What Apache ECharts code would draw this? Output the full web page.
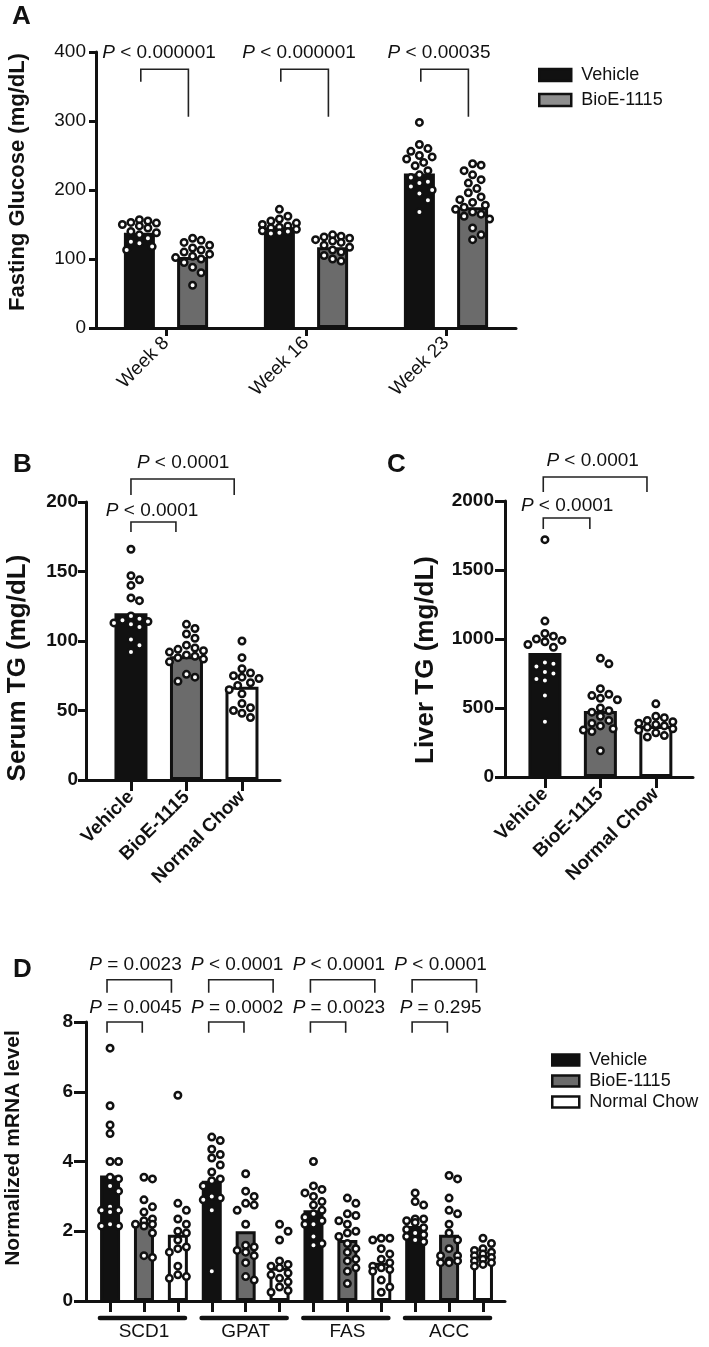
<!DOCTYPE html>
<html><head><meta charset="utf-8">
<script src="https://cdn.jsdelivr.net/npm/echarts@6/dist/echarts.min.js"></script>
<style>html,body{margin:0;padding:0;background:#fff}#c{width:709px;height:1347px}</style>
</head><body><div id="c"></div><script>
// ---------------- DATA ----------------
const weeks = ['Week 8', 'Week 16', 'Week 23'];
const gluVehicleMean = [138, 146, 224];
const gluBioeMean = [103, 117, 175];
const gluVehiclePts = [
  [157,155,153,152,150,148,145,140,138,135,130,125,123,118,113],
  [172,162,158,155,152,150,148,146,145,143,141,140,138,137],
  [298,266,260,256,250,248,245,240,235,228,222,218,212,210,205,200,195,185,168]
];
const gluBioePts = [
  [130,127,124,120,116,113,110,107,104,102,100,95,88,80,62],
  [135,133,132,130,128,126,124,120,117,113,110,105,100,97],
  [238,236,228,222,215,210,202,196,190,186,182,178,175,172,168,165,162,158,145,135,128]
];
const pGlucose = ['P < 0.000001', 'P < 0.000001', 'P < 0.00035'];

const groups = ['Vehicle', 'BioE-1115', 'Normal Chow'];
const serumTGMean = [120, 89, 67];
const serumTGPts = [
  [166,147,144,140,131,129,118,116,115,114,113,112,110,101,97,92],
  [112,109,105,102,97,95,94,93,92,90,89,88,87,85,76,74,71],
  [100,88,80,77,75,74,73,70,68,65,62,55,52,50,48,45]
];
const pSerum = ['P < 0.0001', 'P < 0.0001'];

const liverTGMean = [898, 478, 370];
const liverTGPts = [
  [1720,1130,1040,1020,1000,990,980,960,940,830,820,800,760,750,710,700,590,400],
  [860,820,640,600,590,570,560,500,480,470,440,410,390,370,350,340,330,190],
  [530,440,430,410,400,390,380,370,360,350,340,320,300,290]
];
const pLiver = ['P < 0.0001', 'P < 0.0001'];

const genes = ['SCD1', 'GPAT', 'FAS', 'ACC'];
const mrnaVehicleMean = [3.6, 3.45, 2.6, 2.15];
const mrnaBioeMean = [2.25, 2.0, 1.75, 1.9];
const mrnaChowMean = [1.9, 0.95, 1.1, 1.3];
const mrnaVehiclePts = [
  [7.25,5.6,5.05,4.8,4.0,4.0,3.55,3.5,3.3,3.15,2.7,2.6,2.55,2.6,2.15,2.15,2.2],
  [4.7,4.6,4.35,4.2,4.1,3.9,3.7,3.5,3.45,3.3,3.0,2.95,2.9,2.6,0.85],
  [4.0,3.3,3.2,3.1,3.0,2.85,2.75,2.6,2.5,2.4,2.3,2.2,2.2,1.85,1.65,1.6],
  [3.1,2.85,2.75,2.35,2.35,2.3,2.25,2.1,2.05,1.95,1.9,1.85,1.75,1.7]
];
const mrnaBioePts = [
  [3.55,3.5,2.9,2.7,2.55,2.35,2.3,2.2,2.2,2.15,1.95,1.3,1.25],
  [3.65,3.15,3.0,2.8,2.75,2.6,2.2,1.6,1.55,1.45,1.4,1.3,1.1,0.7,0.6],
  [2.95,2.8,2.5,2.45,2.3,2.2,2.0,1.95,1.85,1.65,1.5,1.4,1.2,1.15,0.95,0.85,0.5],
  [3.6,3.5,2.95,2.6,2.5,2.2,1.95,1.75,1.5,1.3,1.3,1.15,1.15,1.1,1.1]
];
const mrnaChowPts = [
  [5.9,2.8,2.6,2.35,2.2,2.0,1.95,1.75,1.55,1.5,1.4,1.0,0.75,0.7,0.65],
  [2.2,2.0,1.75,1.15,1.05,1.0,0.95,0.8,0.75,0.65,0.55,0.4,0.3,0.25],
  [1.8,1.8,1.75,1.5,1.35,1.2,1.1,1.0,0.95,0.9,0.85,0.6,0.4,0.25],
  [1.8,1.65,1.5,1.45,1.4,1.35,1.3,1.25,1.2,1.15,1.1,1.05,1.0]
];
const pMrnaUpper = ['P = 0.0023', 'P < 0.0001', 'P < 0.0001', 'P < 0.0001'];
const pMrnaLower = ['P = 0.0045', 'P = 0.0002', 'P = 0.0023', 'P = 0.295'];

// ---------------- STYLE / LAYOUT ----------------
const FONT = '"Liberation Sans", Arial, Helvetica, sans-serif';
const INK = '#111111';
const COL = ['#111111', '#6b6b6b', '#ffffff'];

const L = [
  {left:96,  top:52,   width:420, height:276, xmin:-0.5,  xmax:2.5,   ymax:400,  interval:100},
  {left:86,  top:502,  width:194, height:278, xmin:-0.81, xmax:2.685, ymax:200,  interval:50},
  {left:505, top:501,  width:188, height:276, xmin:-0.72, xmax:2.67,  ymax:2000, interval:500},
  {left:86,  top:1022, width:419, height:279, xmin:-0.71, xmax:11.65, ymax:8,    interval:2}
];
L.forEach(g => { g.pxX = g.width / (g.xmax - g.xmin); g.pxY = g.height / g.ymax; });

// deterministic beeswarm offsets (in x-axis units)
function swarm(vals, g, halfPx, d) {
  const order = vals.map((v, i) => i).sort((a, b) => vals[b] - vals[a]);
  const placed = [], offs = new Array(vals.length);
  const step = d * 0.5, n = Math.floor(halfPx / step);
  for (const i of order) {
    const y = vals[i] * g.pxY;
    let best = 0, bestScore = Infinity;
    for (let k = 0; k <= 2 * n; k++) {
      const o = k === 0 ? 0 : (k % 2 ? 1 : -1) * Math.ceil(k / 2) * step;
      let ov = 0;
      for (const p of placed) { const dist = Math.hypot(o - p.x, y - p.y); if (dist < d) ov += d - dist; }
      const score = ov + Math.abs(o) * 0.02;
      if (score < bestScore - 1e-9) { bestScore = score; best = o; }
    }
    placed.push({x: best, y}); offs[i] = best / g.pxX;
  }
  return offs;
}

function barSeries(gi, items, bw) {
  return {type:'bar', xAxisIndex:gi, yAxisIndex:gi, barWidth:bw, z:2, silent:true, animation:false,
    data: items.map(it => ({value:[it.x, it.y], itemStyle:{color:it.c, borderColor:INK, borderWidth:3}}))};
}
function dotSeries(gi, grs, halfPx) {
  const data = [];
  grs.forEach(gr => {
    const offs = swarm(gr.vals, L[gi], halfPx, 8.5);
    gr.vals.forEach((v, i) => data.push([gr.x + offs[i], v]));
  });
  return {type:'scatter', xAxisIndex:gi, yAxisIndex:gi, symbol:'circle', symbolSize:6.5, z:4, silent:true,
    itemStyle:{color:'#ffffff', borderColor:INK, borderWidth:2.5, opacity:1}, data};
}
function bracketSeries(gi, items) {
  return {type:'custom', xAxisIndex:gi, yAxisIndex:gi, clip:false, silent:true, z:5,
    data: items,
    renderItem: (params, api) => {
      const x1 = api.value(0), x2 = api.value(1), yT = api.value(2), yL = api.value(3), yR = api.value(4);
      return {type:'polyline', shape:{points:[api.coord([x1, yL]), api.coord([x1, yT]), api.coord([x2, yT]), api.coord([x2, yR])]},
        style:{stroke:'#222', lineWidth:1.6, fill:null}};
    }};
}
function textSeries(gi, items) {
  return {type:'custom', xAxisIndex:gi, yAxisIndex:gi, clip:false, silent:true, z:6,
    data: items.map(it => [it.x, it.y]),
    renderItem: (params, api) => {
      const p = api.coord([api.value(0), api.value(1)]);
      const t = items[params.dataIndex].t.slice(1);
      return {type:'text', x:p[0], y:p[1], style:{
        text:'{i|P}{n|' + t + '}', fill:INK, fontSize:19, fontFamily:FONT,
        align:'center', verticalAlign:'middle', textAlign:'center', textVerticalAlign:'middle',
        rich:{i:{fontStyle:'italic', fontSize:19, fontFamily:FONT, fill:INK}, n:{fontSize:19, fontFamily:FONT, fill:INK}}}};
    }};
}
function lineSeries(gi, items) {
  return {type:'custom', xAxisIndex:gi, yAxisIndex:gi, clip:false, silent:true, z:5, data: items,
    renderItem: (params, api) => {
      const a = api.coord([api.value(0), api.value(2)]), b = api.coord([api.value(1), api.value(2)]);
      return {type:'line', shape:{x1:a[0], y1:a[1], x2:b[0], y2:b[1]}, style:{stroke:INK, lineWidth:4.5, lineCap:'round'}};
    }};
}

function yAxis(gi, bold, margin, tickLen) {
  const g = L[gi];
  return {gridIndex:gi, type:'value', min:0, max:g.ymax, interval:g.interval,
    axisLine:{show:true, onZero:false, lineStyle:{color:INK, width:3}},
    axisTick:{show:true, length:tickLen, lineStyle:{color:INK, width:3}},
    axisLabel:{color:INK, fontFamily:FONT, fontSize:19, fontWeight:bold ? 'bold' : 'normal', margin, formatter:v => String(v)},
    splitLine:{show:false}};
}
function xAxis(gi, ticks, labelVals, fmt, o) {
  const g = L[gi];
  return {gridIndex:gi, type:'value', min:g.xmin, max:g.xmax,
    axisLine:{show:true, onZero:false, lineStyle:{color:INK, width:3}},
    axisTick:{show:true, customValues:ticks, length:o.tickLen, lineStyle:{color:INK, width:3}},
    axisLabel:{customValues:labelVals, formatter:fmt, rotate:o.rotate || 0, color:INK, fontFamily:FONT,
      fontSize:o.fontSize, fontWeight:o.bold ? 'bold' : 'normal', margin:o.margin},
    splitLine:{show:false}};
}

const OFF = 0.19;
const series = [];
// Panel A
series.push(barSeries(0, weeks.flatMap((w, i) => [{x:i - OFF, y:gluVehicleMean[i], c:COL[0]}, {x:i + OFF, y:gluBioeMean[i], c:COL[1]}]), 31));
series.push(dotSeries(0, weeks.flatMap((w, i) => [{x:i - OFF, vals:gluVehiclePts[i]}, {x:i + OFF, vals:gluBioePts[i]}]), 17));
series.push(bracketSeries(0, weeks.map((w, i) => [i - 0.18, i + 0.16, 375, 357, 306])));
series.push(textSeries(0, weeks.map((w, i) => ({x:i - 0.05, y:399, t:pGlucose[i]}))));
// Panel B
series.push(barSeries(1, groups.map((g, i) => ({x:i, y:serumTGMean[i], c:COL[i]})), 33));
series.push(dotSeries(1, groups.map((g, i) => ({x:i, vals:serumTGPts[i]})), 17));
series.push(bracketSeries(1, [[0, 0.81, 185.6, 178.4, 178.4], [0, 1.86, 216.5, 205, 205]]));
series.push(textSeries(1, [{x:0.38, y:194, t:pSerum[0]}, {x:0.94, y:228, t:pSerum[1]}]));
// Panel C
series.push(barSeries(2, groups.map((g, i) => ({x:i, y:liverTGMean[i], c:COL[i]})), 33));
series.push(dotSeries(2, groups.map((g, i) => ({x:i, vals:liverTGPts[i]})), 17));
series.push(bracketSeries(2, [[-0.03, 0.81, 1877, 1797, 1797], [-0.03, 1.84, 2174, 2065, 2065]]));
series.push(textSeries(2, [{x:0.4, y:1964, t:pLiver[0]}, {x:0.86, y:2290, t:pLiver[1]}]));
// Panel D
const dBars = [], dDots = [];
genes.forEach((gname, gi) => {
  const b = gi * 3;
  dBars.push({x:b, y:mrnaVehicleMean[gi], c:COL[0]}, {x:b + 1, y:mrnaBioeMean[gi], c:COL[1]}, {x:b + 2, y:mrnaChowMean[gi], c:COL[2]});
  dDots.push({x:b, vals:mrnaVehiclePts[gi]}, {x:b + 1, vals:mrnaBioePts[gi]}, {x:b + 2, vals:mrnaChowPts[gi]});
});
series.push(barSeries(3, dBars, 20));
series.push(dotSeries(3, dDots, 11));
series.push(bracketSeries(3, genes.flatMap((g, gi) => [[gi * 3 - 0.09, gi * 3 + 1.81, 9.21, 8.84, 8.84], [gi * 3 - 0.09, gi * 3 + 0.95, 8.0, 7.69, 7.69]])));
series.push(textSeries(3, genes.flatMap((g, gi) => [{x:gi * 3 + 0.75, y:9.64, t:pMrnaUpper[gi]}, {x:gi * 3 + 0.75, y:8.41, t:pMrnaLower[gi]}])));
series.push(lineSeries(3, genes.map((g, gi) => [gi * 3 - 0.3, gi * 3 + 2.21, -0.49])));
// legend carriers
['Vehicle', 'BioE-1115', 'Normal Chow'].forEach((n, i) => series.push({type:'scatter', name:n, data:[], xAxisIndex:0, yAxisIndex:0,
  itemStyle:{color:COL[i], borderColor:INK, borderWidth:2.5, opacity:1}}));

const legText = {fontFamily:FONT, fontSize:18, color:INK, lineHeight:18, padding:[0, 0, 0, 5]};
const legItem = (name, color) => ({name, icon:'rect', itemStyle:{color, borderColor:INK, borderWidth:2.5, opacity:1}});
const option = {
  animation:false,
  backgroundColor:'#ffffff',
  grid: L.map(g => ({left:g.left, top:g.top, width:g.width, height:g.height, containLabel:false, outerBoundsMode:'none'})),
  xAxis: [
    xAxis(0, [0, 1, 2], [0, 1, 2], v => weeks[Math.round(v)] || '', {tickLen:8, rotate:45, fontSize:19, margin:12}),
    xAxis(1, [0, 1, 2], [0, 1, 2], v => groups[Math.round(v)] || '', {tickLen:11, rotate:45, fontSize:19, bold:true, margin:14}),
    xAxis(2, [0, 1, 2], [0, 1, 2], v => groups[Math.round(v)] || '', {tickLen:11, rotate:45, fontSize:19, bold:true, margin:14}),
    xAxis(3, [0,1,2,3,4,5,6,7,8,9,10,11], [1, 4, 7, 10], v => genes[Math.round((v - 1) / 3)] || '', {tickLen:11, fontSize:19, margin:21})
  ],
  yAxis: [yAxis(0, false, 10, 7), yAxis(1, true, 8, 8), yAxis(2, true, 11, 10), yAxis(3, true, 13, 12)],
  legend: [
    {left:538, top:66, orient:'vertical', itemWidth:32, itemHeight:12, itemGap:7, padding:0, selectedMode:false, textStyle:legText,
      data:[legItem('Vehicle', COL[0]), legItem('BioE-1115', '#8e8e8e')]},
    {left:551, top:1051, orient:'vertical', itemWidth:27, itemHeight:11, itemGap:3, padding:0, selectedMode:false, textStyle:legText,
      data:[legItem('Vehicle', COL[0]), legItem('BioE-1115', COL[1]), legItem('Normal Chow', COL[2])]}
  ],
  graphic: [
    {type:'text', left:12, top:4, style:{text:'A', font:'bold 26px ' + FONT, fill:INK}},
    {type:'text', left:13, top:452, style:{text:'B', font:'bold 26px ' + FONT, fill:INK}},
    {type:'text', left:387, top:452, style:{text:'C', font:'bold 26px ' + FONT, fill:INK}},
    {type:'text', left:13, top:957, style:{text:'D', font:'bold 26px ' + FONT, fill:INK}},
    {type:'text', x:18, y:182, rotation:Math.PI / 2, style:{text:'Fasting Glucose (mg/dL)', font:'bold 22px ' + FONT, fill:INK, textAlign:'center', textVerticalAlign:'middle'}},
    {type:'text', x:18, y:668, rotation:Math.PI / 2, style:{text:'Serum TG (mg/dL)', font:'bold 26px ' + FONT, fill:INK, textAlign:'center', textVerticalAlign:'middle'}},
    {type:'text', x:426, y:660, rotation:Math.PI / 2, style:{text:'Liver TG (mg/dL)', font:'bold 26px ' + FONT, fill:INK, textAlign:'center', textVerticalAlign:'middle'}},
    {type:'text', x:13, y:1148, rotation:Math.PI / 2, style:{text:'Normalized mRNA level', font:'bold 21px ' + FONT, fill:INK, textAlign:'center', textVerticalAlign:'middle'}}
  ],
  series
};
const chart = echarts.init(document.getElementById('c'), null, {renderer:'canvas'});
chart.setOption(option);
</script></body></html>
